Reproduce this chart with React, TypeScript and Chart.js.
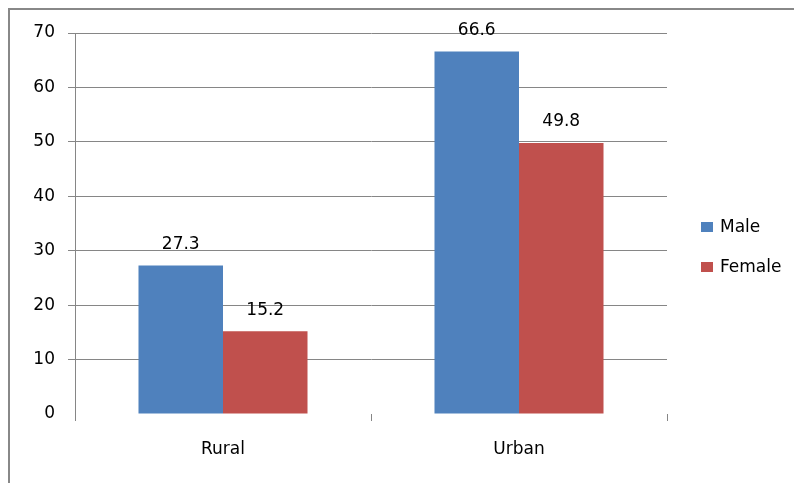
import React, { useEffect, useRef } from "react";
import { Chart, registerables } from "chart.js";

Chart.register(...registerables);

const categories = ["Rural", "Urban"];
const seriesNames = ["Male", "Female"];
const maleValues = [27.3, 66.6];
const femaleValues = [15.2, 49.8];
const yTicks = [0, 10, 20, 30, 40, 50, 60, 70];

const COLORS = ["#4F81BD", "#C0504D"];
const GRID = "#868686";
const FONT = "'DejaVu Sans', sans-serif";

const extras = {
  id: "extras",
  afterDraw(chart: any) {
    const ctx = chart.ctx;
    ctx.save();
    // outer frame (top and left edges visible)
    ctx.strokeStyle = "#888888";
    ctx.lineWidth = 2;
    ctx.beginPath();
    ctx.moveTo(9, 483);
    ctx.lineTo(9, 9);
    ctx.lineTo(794, 9);
    ctx.stroke();
    // data labels
    ctx.fillStyle = "#000";
    ctx.font = "17px " + FONT;
    ctx.textAlign = "center";
    ctx.textBaseline = "middle";
    chart.data.datasets.forEach((ds: any, i: number) => {
      const meta = chart.getDatasetMeta(i);
      meta.data.forEach((bar: any, j: number) => {
        ctx.fillText(String(ds.data[j]), bar.x, bar.y - 21);
      });
    });
    // legend
    ctx.textAlign = "left";
    chart.data.datasets.forEach((ds: any, i: number) => {
      const y = 227 + i * 40;
      ctx.fillStyle = ds.backgroundColor;
      ctx.fillRect(701, y - 5, 12, 10);
      ctx.fillStyle = "#000";
      ctx.fillText(ds.label, 720, y + 1);
    });
    ctx.restore();
  },
};

export default function App() {
  const ref = useRef<HTMLCanvasElement>(null);
  useEffect(() => {
    if (!ref.current) return;
    const chart = new Chart(ref.current, {
      type: "bar",
      data: {
        labels: categories,
        datasets: [
          { label: seriesNames[0], data: maleValues, backgroundColor: COLORS[0], borderWidth: 0 },
          { label: seriesNames[1], data: femaleValues, backgroundColor: COLORS[1], borderWidth: 0 },
        ],
      },
      options: {
        animation: false,
        responsive: false,
        maintainAspectRatio: false,
        layout: { padding: { top: 33, right: 127, bottom: 0, left: 0 } },
        plugins: { legend: { display: false }, tooltip: { enabled: false } },
        categoryPercentage: 0.571,
        barPercentage: 1,
        scales: {
          x: {
            grid: {
              offset: true,
              drawOnChartArea: false,
              drawTicks: true,
              tickLength: 7,
              color: GRID,
            },
            border: { display: false },
            ticks: { color: "#000", font: { family: FONT, size: 17 }, padding: 18 },
            afterFit: (s: any) => {
              s.height = 69;
            },
          },
          y: {
            min: 0,
            max: 70,
            afterBuildTicks: (s: any) => {
              s.ticks = yTicks.map((v) => ({ value: v }));
            },
            grid: {
              color: (c: any) => (c.tick && c.tick.value === 0 ? "rgba(0,0,0,0)" : GRID),
              tickLength: 7,
            },
            border: { display: true, color: GRID },
            ticks: { color: "#000", font: { family: FONT, size: 17 }, padding: 13 },
            afterFit: (s: any) => {
              s.width = 75;
            },
          },
        },
      } as any,
      plugins: [extras],
    });
    return () => chart.destroy();
  }, []);
  return (
    <div style={{ position: "fixed", left: 0, top: 0, width: 794, height: 483, background: "#fff" }}>
      <canvas ref={ref} width={794} height={483} style={{ width: 794, height: 483 }} />
    </div>
  );
}
